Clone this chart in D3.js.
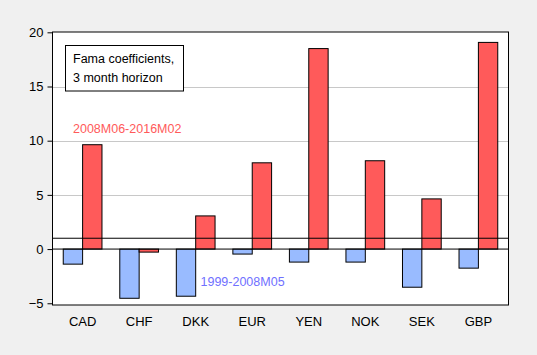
<!DOCTYPE html>
<html><head><meta charset="utf-8">
<script src="https://cdn.jsdelivr.net/npm/d3@7"></script>
<style>body{margin:0;background:#f0f0f0;} svg{display:block;}</style>
</head><body>
<script>
const categories = ["CAD","CHF","DKK","EUR","YEN","NOK","SEK","GBP"];
const early = [-1.39,-4.54,-4.35,-0.46,-1.2,-1.2,-3.52,-1.76];   // 1999-2008M05
const late  = [9.63,-0.28,3.06,7.96,18.5,8.15,4.63,19.07];      // 2008M06-2016M02
const yTicks = [-5,0,5,10,15,20];
const gridVals = [5,10,15];
const refLine = 1;

const W=537,H=355;
const m={l:52.5,r:28.5,t:32,b:50};
const svg=d3.select("body").append("svg").attr("width",W).attr("height",H);
svg.append("rect").attr("width",W).attr("height",H).attr("fill","#f0f0f0");
const x=d3.scaleBand().domain(categories).range([m.l,W-m.r]).paddingInner(0.315).paddingOuter(0.19);
const y=d3.scaleLinear().domain([-5.16,20.03]).range([H-m.b,m.t]);
const font="'Liberation Sans', Arial, sans-serif";

svg.append("rect").attr("x",m.l).attr("y",m.t).attr("width",W-m.r-m.l).attr("height",H-m.b-m.t).attr("fill","#fff");
svg.selectAll(".grid").data(gridVals).join("line")
  .attr("x1",m.l).attr("x2",W-m.r).attr("y1",d=>Math.round(y(d))+0.5).attr("y2",d=>Math.round(y(d))+0.5)
  .attr("stroke","#c8c8c8").attr("stroke-width",1);

const bw=x.bandwidth()/2;
svg.selectAll(".b1").data(categories).join("rect")
  .attr("x",(d)=>x(d)).attr("width",bw)
  .attr("y",(d,i)=>y(Math.max(0,early[i]))).attr("height",(d,i)=>Math.abs(y(early[i])-y(0)))
  .attr("fill","#99bbff").attr("stroke","#000").attr("stroke-width",1);
svg.selectAll(".b2").data(categories).join("rect")
  .attr("x",(d)=>x(d)+bw).attr("width",bw)
  .attr("y",(d,i)=>y(Math.max(0,late[i]))).attr("height",(d,i)=>Math.abs(y(late[i])-y(0)))
  .attr("fill","#ff5a5a").attr("stroke","#000").attr("stroke-width",1);

svg.append("line").attr("x1",m.l).attr("x2",W-m.r).attr("y1",y(0)).attr("y2",y(0)).attr("stroke","#000");
svg.append("line").attr("x1",m.l).attr("x2",W-m.r).attr("y1",y(refLine)).attr("y2",y(refLine)).attr("stroke","#000");
svg.append("rect").attr("x",m.l).attr("y",m.t).attr("width",W-m.r-m.l).attr("height",H-m.b-m.t)
  .attr("fill","none").attr("stroke","#000").attr("stroke-width",1);

const yAxis=d3.axisLeft(y).tickValues(yTicks).tickSize(5).tickPadding(4).tickFormat(d3.format("d"));
const ga=svg.append("g").attr("transform",`translate(${m.l},0)`).call(yAxis);
ga.select(".domain").remove();
ga.selectAll("text").attr("font-family",font).attr("font-size",13).attr("fill","#000");
ga.selectAll("line").attr("stroke","#000");

const xAxis=d3.axisBottom(x).tickSize(0).tickPadding(12);
const gx=svg.append("g").attr("transform",`translate(0,${H-m.b})`).call(xAxis);
gx.select(".domain").remove();
gx.selectAll("text").attr("font-family",font).attr("font-size",13).attr("fill","#000");

svg.append("rect").attr("x",65.5).attr("y",45.5).attr("width",118).attr("height",45.5).attr("fill","#fff").attr("stroke","#000");
svg.append("text").attr("x",73).attr("y",62.5).text("Fama coefficients,").attr("font-family",font).attr("font-size",12.5);
svg.append("text").attr("x",73).attr("y",81.5).text("3 month horizon").attr("font-family",font).attr("font-size",12.5);
svg.append("text").attr("x",73).attr("y",132.5).text("2008M06-2016M02").attr("font-family",font).attr("font-size",12.5).attr("fill","#ff5a5a");
svg.append("text").attr("x",200.5).attr("y",286).text("1999-2008M05").attr("font-family",font).attr("font-size",12.5).attr("fill","#7070ff");
</script>
</body></html>
